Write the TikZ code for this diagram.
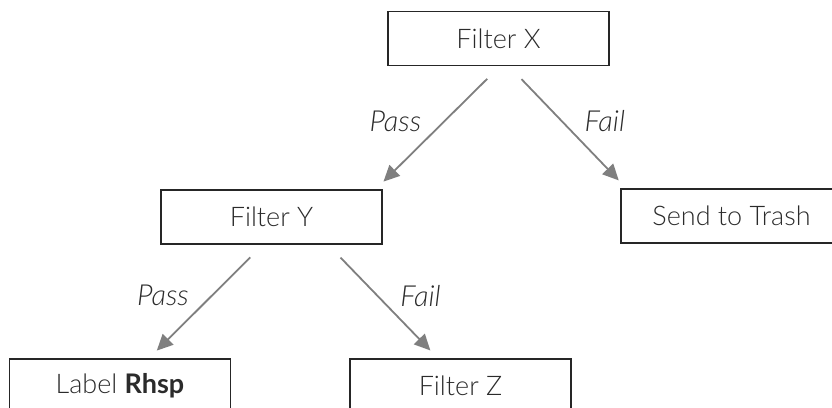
\documentclass[tikz,border=0pt]{standalone}
\usepackage{fontspec}
\setmainfont{Lato Light}[ItalicFont={Lato Light Italic}, BoldFont={Lato Bold}]
\usepackage{tikz}
\usetikzlibrary{arrows.meta, calc, positioning}
\definecolor{boxline}{HTML}{262626}
\definecolor{arrowgray}{HTML}{7F7F7F}
\definecolor{txt}{HTML}{2B2B2B}

\begin{document}
\begin{tikzpicture}[x=1pt, y=-1pt,
  filt/.style={draw=boxline, line width=1.3pt, minimum width=221pt, minimum height=54pt,
               inner sep=0pt, text=txt, font=\fontsize{27}{32}\selectfont},
  flow/.style={-{Triangle[length=16pt,width=15pt]}, line width=1.8pt, arrowgray,
               shorten <=18pt, shorten >=11pt},
  lab/.style={inner sep=0pt, text=txt, font=\fontsize{29}{34}\selectfont\itshape}]
  \useasboundingbox (0,0) rectangle (832,407);
  \node[filt] (X) at (498.5,38.5) {Filter X};
  \node[filt] (Y) at (271.5,217)  {Filter Y};
  \node[filt] (T) at (731.5,216)  {Send to Trash};
  \node[filt] (L) at (120,386)    {Label \textbf{Rhsp}};
  \node[filt] (Z) at (460.5,386)  {Filter Z};
  \draw[flow] ($(X.south)+(1.5,0)$) -- ($(Y.north east)+(-7,0)$)
    node[lab, pos=0.45, left=22pt] {Pass};
  \draw[flow] ($(X.south)+(10.5,0)$) -- ($(T.north west)+(6,0)$)
    node[lab, pos=0.45, right=22pt] {Fail};
  \draw[flow] ($(Y.south)+(-8.5,0)$) -- ($(L.north)+(29,0)$)
    node[lab, pos=0.45, left=22pt] {Pass};
  \draw[flow] ($(Y.south)+(56.5,0)$) -- ($(Z.north)+(-22.5,0)$)
    node[lab, pos=0.45, right=22pt] {Fail};
\end{tikzpicture}
\end{document}
